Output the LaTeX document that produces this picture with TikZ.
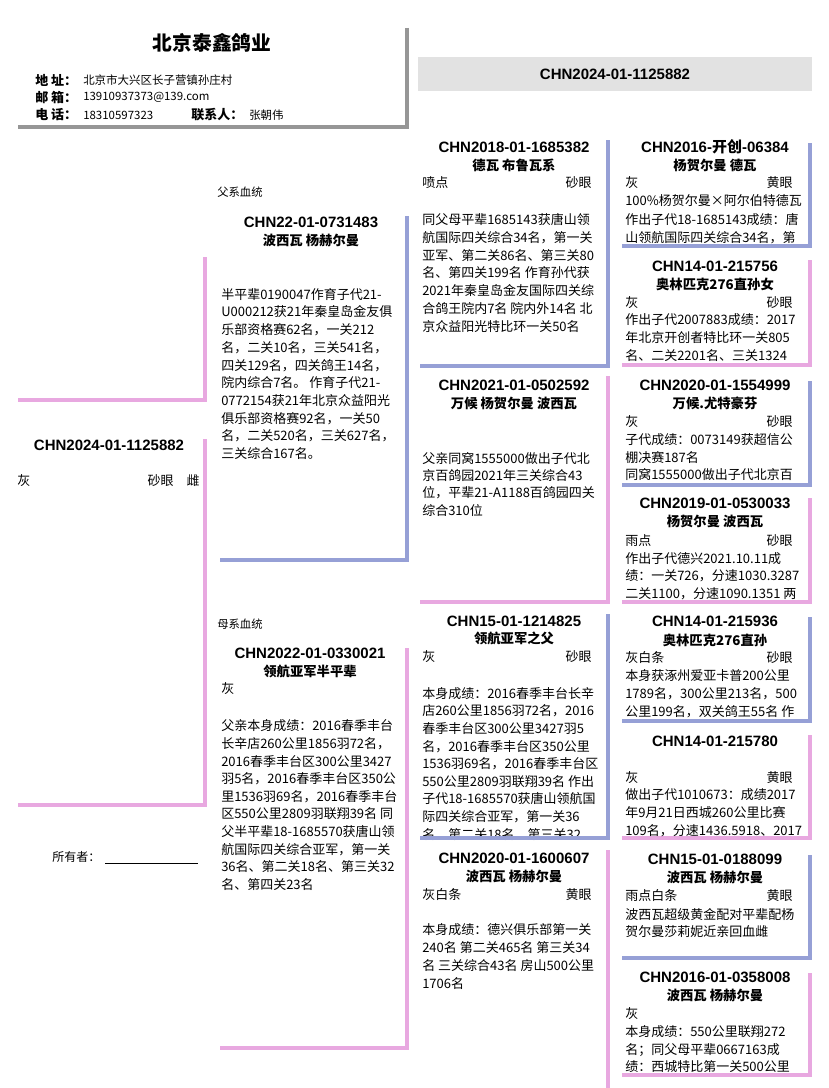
\documentclass[tikz,border=0pt]{standalone}
\usepackage{fontspec}
\setmainfont{Noto Sans CJK SC}
\newfontfamily\idfont{Liberation Sans}
\newfontfamily\cjkfont{Noto Sans CJK SC}

\definecolor{maleblue}{RGB}{150,160,214}
\definecolor{femalepink}{RGB}{232,168,224}
\definecolor{shadowgray}{RGB}{150,150,150}
\definecolor{barfill}{RGB}{226,226,226}

\begin{document}
\begin{tikzpicture}[x=0.75pt, y=-0.75pt,
    idtxt/.style={font=\idfont\bfseries\fontsize{11.25}{13}\selectfont, inner sep=0pt},
    nametxt/.style={font=\bfseries\fontsize{10}{12}\selectfont, inner sep=0pt},
    body/.style={font=\fontsize{9.75}{12}\selectfont, inner sep=0pt, anchor=west,
        text height=8.6pt, text depth=1.2pt},
    small/.style={font=\fontsize{8.5}{10}\selectfont, inner sep=0pt, anchor=west},
    hkey/.style={font=\bfseries\fontsize{9.75}{12}\selectfont, inner sep=0pt, anchor=west},
    hval/.style={font=\fontsize{8.6}{10}\selectfont, inner sep=0pt, anchor=west},
    male/.style={draw=maleblue, line width=2.4pt},
    female/.style={draw=femalepink, line width=2.4pt},
    shade/.style={draw=shadowgray, line width=2.4pt}
]
\useasboundingbox[fill=white] (0,0) rectangle (828,1088);

% header
\coordinate (hnw) at (18,28);
\coordinate (hse) at (407,127);
\draw[shade] (hse |- hnw) -- (hse) -- (hnw |- hse);
\node[font=\bfseries\fontsize{14.8}{17}\selectfont, inner sep=0pt] (firm) at (212,43) {北京泰鑫鸽业};
\node[hkey] (addrk) at (35,80) {地 址：};
\node[hval] (addrv) at (83,80) {北京市大兴区长子营镇孙庄村};
\node[hkey] (mailk) at (35,97.5) {邮 箱：};
\node[hval] (mailv) at (83,97.5) {13910937373@139.com};
\node[hkey] (telk) at (35,115) {电 话：};
\node[hval] (telv) at (83,115) {18310597323};
\node[hkey] (contk) at (191,115) {联系人：};
\node[hval] (contv) at (249,115) {张朝伟};
\node[idtxt, fill=barfill, minimum width=295.5pt, minimum height=25.5pt] (topbar) at (615,74) {CHN2024-01-1125882};

% root
\coordinate (snw) at (18,257);
\coordinate (sse) at (205,400);
\draw[female] (sse |- snw) -- (sse) -- (snw |- sse);
\coordinate (rnw) at (18,439);
\coordinate (rse) at (205,805);
\draw[female] (rse |- rnw) -- (rse) -- (rnw |- rse);
\node[idtxt] (rootid) at (109,445) {CHN2024-01-1125882};
\node[body] (rootcl) at (17,481) {灰};
\node[body, anchor=east] (rootey) at (200,481) {砂眼\quad 雌};
\node[small, font=\fontsize{9}{11}\selectfont] (owner) at (52,857) {所有者：};
\coordinate (ownl) at (105,863);
\coordinate (ownr) at (198,863);
\draw[line width=0.6pt] (ownl) -- (ownr);

% father
\node[small] (sirelbl) at (217,192) {父系血统};
\coordinate (fnw) at (220,216);
\coordinate (fse) at (407,560);
\draw[male] (fse |- fnw) -- (fse) -- (fnw |- fse);
\node[idtxt] (fid) at (311,222) {CHN22-01-0731483};
\node[nametxt] (fnm) at (311,240) {波西瓦 杨赫尔曼};
\foreach \l [count=\i from 0] in {半平辈0190047作育子代21-, U000212获21年秦皇岛金友俱,
    乐部资格赛62名，一关212, 名，二关10名，三关541名，, 四关129名，四关鸽王14名，,
    院内综合7名。 作育子代21-, 0772154获21年北京众益阳光, 俱乐部资格赛92名，一关50,
    名，二关520名，三关627名，, 三关综合167名。}
    \node[body] (f-\i) at (221,294.3+17.7*\i) {\l};

% mother
\node[small] (damlbl) at (217,624) {母系血统};
\coordinate (mnw) at (220,648);
\coordinate (mse) at (407,1048);
\draw[female] (mse |- mnw) -- (mse) -- (mnw |- mse);
\node[idtxt] (mid) at (310,653) {CHN2022-01-0330021};
\node[nametxt] (mnm) at (310,671) {领航亚军半平辈};
\node[body] (mcl) at (221,689) {灰};
\foreach \l [count=\i from 0] in {父亲本身成绩：2016春季丰台, 长辛店260公里1856羽72名，,
    2016春季丰台区300公里3427, 羽5名，2016春季丰台区350公, 里1536羽69名，2016春季丰台,
    区550公里2809羽联翔39名 同, 父半平辈18-1685570获唐山领, 航国际四关综合亚军，第一关,
    36名、第二关18名、第三关32, 名、第四关23名}
    \node[body] (m-\i) at (221,726+17.6*\i) {\l};

% third column
\coordinate (b1nw) at (420,140);
\coordinate (b1se) at (608,366);
\draw[male] (b1se |- b1nw) -- (b1se) -- (b1nw |- b1se);
\node[idtxt] (b1id) at (514,147) {CHN2018-01-1685382};
\node[nametxt] (b1nm) at (514,165) {德瓦 布鲁瓦系};
\node[body] (b1cl) at (422,183) {喷点};
\node[body, anchor=east] (b1ey) at (592,183) {砂眼};
\foreach \l [count=\i from 0] in {同父母平辈1685143获唐山领, 航国际四关综合34名，第一关,
    亚军、第二关86名、第三关80, 名、第四关199名 作育孙代获, 2021年秦皇岛金友国际四关综,
    合鸽王院内7名 院内外14名 北, 京众益阳光特比环一关50名}
    \node[body] (b1-\i) at (422,219.3+17.9*\i) {\l};

\coordinate (b2nw) at (420,376);
\coordinate (b2se) at (608,602);
\draw[female] (b2se |- b2nw) -- (b2se) -- (b2nw |- b2se);
\node[idtxt] (b2id) at (514,385) {CHN2021-01-0502592};
\node[nametxt] (b2nm) at (514,403) {万候 杨贺尔曼 波西瓦};
\foreach \l [count=\i from 0] in {父亲同窝1555000做出子代北, 京百鸽园2021年三关综合43,
    位，平辈21-A1188百鸽园四关, 综合310位}
    \node[body] (b2-\i) at (422,458.3+17.3*\i) {\l};

\coordinate (b3nw) at (420,614);
\coordinate (b3se) at (608,838);
\node[idtxt] (b3id) at (514,621.7) {CHN15-01-1214825};
\node[nametxt] (b3nm) at (514,638.3) {领航亚军之父};
\node[body] (b3cl) at (422,656.7) {灰};
\node[body, anchor=east] (b3ey) at (592,656.7) {砂眼};
\foreach \l [count=\i from 0] in {本身成绩：2016春季丰台长辛, 店260公里1856羽72名，2016,
    春季丰台区300公里3427羽5, 名，2016春季丰台区350公里, 1536羽69名，2016春季丰台区,
    550公里2809羽联翔39名 作出, 子代18-1685570获唐山领航国, 际四关综合亚军，第一关36,
    名、第二关18名、第三关32}
    \node[body] (b3-\i) at (422,693.3+17.6*\i) {\l};
\draw[male] (b3se |- b3nw) -- (b3se) -- (b3nw |- b3se);

\coordinate (b4nw) at (420,850);
\coordinate (b4se) at (608,1088);
\draw[female] (b4se |- b4nw) -- (b4se);
\node[idtxt] (b4id) at (514,858.3) {CHN2020-01-1600607};
\node[nametxt] (b4nm) at (514,876.7) {波西瓦 杨赫尔曼};
\node[body] (b4cl) at (422,895) {灰白条};
\node[body, anchor=east] (b4ey) at (592,895) {黄眼};
\foreach \l [count=\i from 0] in {本身成绩：德兴俱乐部第一关, 240名 第二关465名 第三关34,
    名 三关综合43名 房山500公里, 1706名}
    \node[body] (b4-\i) at (422,930+17.8*\i) {\l};

% fourth column
\coordinate (c1nw) at (622,143);
\coordinate (c1se) at (810,246);
\draw[male] (c1se |- c1nw) -- (c1se) -- (c1nw |- c1se);
\node[idtxt] (c1id) at (715,146.7) {CHN2016-{\cjkfont\bfseries 开创}-06384};
\node[nametxt] (c1nm) at (715,165) {杨贺尔曼 德瓦};
\node[body] (c1cl) at (625,182.7) {灰};
\node[body, anchor=east] (c1ey) at (793,182.7) {黄眼};
\foreach \l [count=\i from 0] in {100\%杨贺尔曼×阿尔伯特德瓦, 作出子代18-1685143成绩：唐,
    山领航国际四关综合34名，第}
    \node[body] (c1-\i) at (625,201+18.1*\i) {\l};

\coordinate (c2nw) at (622,260);
\coordinate (c2se) at (810,365);
\draw[female] (c2se |- c2nw) -- (c2se) -- (c2nw |- c2se);
\node[idtxt] (c2id) at (715,266) {CHN14-01-215756};
\node[nametxt] (c2nm) at (715,284) {奥林匹克276直孙女};
\node[body] (c2cl) at (625,302.7) {灰};
\node[body, anchor=east] (c2ey) at (793,302.7) {砂眼};
\foreach \l [count=\i from 0] in {作出子代2007883成绩：2017, 年北京开创者特比环一关805,
    名、二关2201名、三关1324}
    \node[body] (c2-\i) at (625,320+18*\i) {\l};

\coordinate (c3nw) at (622,381);
\coordinate (c3se) at (810,485);
\draw[male] (c3se |- c3nw) -- (c3se) -- (c3nw |- c3se);
\node[idtxt] (c3id) at (715,385) {CHN2020-01-1554999};
\node[nametxt] (c3nm) at (715,403.3) {万候.尤特豪芬};
\node[body] (c3cl) at (625,421.7) {灰};
\node[body, anchor=east] (c3ey) at (793,421.7) {砂眼};
\foreach \l [count=\i from 0] in {子代成绩：0073149获超信公, 棚决赛187名,
    同窝1555000做出子代北京百}
    \node[body] (c3-\i) at (625,440+17.5*\i) {\l};

\coordinate (c4nw) at (622,498);
\coordinate (c4se) at (810,602);
\draw[female] (c4se |- c4nw) -- (c4se) -- (c4nw |- c4se);
\node[idtxt] (c4id) at (715,503.3) {CHN2019-01-0530033};
\node[nametxt] (c4nm) at (715,521.7) {杨贺尔曼 波西瓦};
\node[body] (c4cl) at (625,540.7) {雨点};
\node[body, anchor=east] (c4ey) at (793,540.7) {砂眼};
\foreach \l [count=\i from 0] in {作出子代德兴2021.10.11成, 绩：一关726，分速1030.3287,
    二关1100，分速1090.1351 两}
    \node[body] (c4-\i) at (625,558.3+17.5*\i) {\l};

\coordinate (c5nw) at (622,617);
\coordinate (c5se) at (810,721);
\draw[male] (c5se |- c5nw) -- (c5se) -- (c5nw |- c5se);
\node[idtxt] (c5id) at (715,621.7) {CHN14-01-215936};
\node[nametxt] (c5nm) at (715,640) {奥林匹克276直孙};
\node[body] (c5cl) at (625,657.7) {灰白条};
\node[body, anchor=east] (c5ey) at (793,657.7) {砂眼};
\foreach \l [count=\i from 0] in {本身获涿州爱亚卡普200公里, 1789名，300公里213名，500,
    公里199名，双关鸽王55名 作}
    \node[body] (c5-\i) at (625,675.7+17.7*\i) {\l};

\coordinate (c6nw) at (622,735);
\coordinate (c6se) at (810,838);
\draw[female] (c6se |- c6nw) -- (c6se) -- (c6nw |- c6se);
\node[idtxt] (c6id) at (715,741) {CHN14-01-215780};
\node[body] (c6cl) at (625,777.7) {灰};
\node[body, anchor=east] (c6ey) at (793,777.7) {黄眼};
\foreach \l [count=\i from 0] in {做出子代1010673：成绩2017, 年9月21日西城260公里比赛,
    109名，分速1436.5918、2017}
    \node[body] (c6-\i) at (625,795+18*\i) {\l};

\coordinate (c7nw) at (622,855);
\coordinate (c7se) at (810,958);
\draw[male] (c7se |- c7nw) -- (c7se) -- (c7nw |- c7se);
\node[idtxt] (c7id) at (715,859) {CHN15-01-0188099};
\node[nametxt] (c7nm) at (715,877.3) {波西瓦 杨赫尔曼};
\node[body] (c7cl) at (625,895.7) {雨点白条};
\node[body, anchor=east] (c7ey) at (793,895.7) {黄眼};
\foreach \l [count=\i from 0] in {波西瓦超级黄金配对平辈配杨, 贺尔曼莎莉妮近亲回血雌}
    \node[body] (c7-\i) at (625,914.3+17.4*\i) {\l};

\coordinate (c8nw) at (622,973);
\coordinate (c8se) at (810,1075);
\draw[female] (c8se |- c8nw) -- (c8se) -- (c8nw |- c8se);
\node[idtxt] (c8id) at (715,977.7) {CHN2016-01-0358008};
\node[nametxt] (c8nm) at (715,995.7) {波西瓦 杨赫尔曼};
\node[body] (c8cl) at (625,1014) {灰};
\foreach \l [count=\i from 0] in {本身成绩：550公里联翔272, 名；同父母平辈0667163成,
    绩：西城特比第一关500公里}
    \node[body] (c8-\i) at (625,1031.7+17.5*\i) {\l};

\end{tikzpicture}
\end{document}
